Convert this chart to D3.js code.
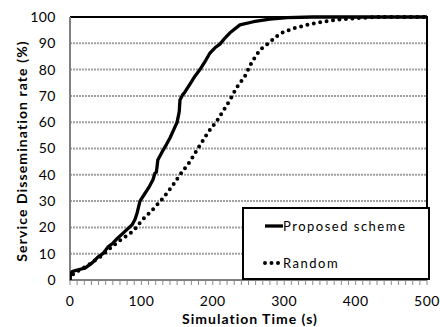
<!DOCTYPE html>
<html>
<head>
<meta charset="utf-8">
<script src="https://cdn.jsdelivr.net/npm/d3@7"></script>
<style>
  body { margin: 0; background: #fff; }
  svg text { font-family: Lato, "Open Sans", sans-serif; fill: #000; }
</style>
</head>
<body>
<div id="chart"></div>
<script>
// Proposed scheme (time in s, dissemination rate in %)
const proposedTime = [0, 1, 3, 10, 21, 31, 39, 46, 53, 60, 67, 77, 87, 91, 94, 98, 104, 110, 116, 119, 121, 123, 129, 135, 140, 145, 150, 153, 154, 158, 161, 168, 175, 182, 189, 196, 203, 210, 217, 224, 238, 257, 280, 304, 340, 500];
const proposedRate = [0, 2.5, 3.2, 3.8, 4.5, 6.5, 8.7, 10, 12.5, 14, 16, 18.5, 21, 23, 25.5, 30, 32.5, 35, 38, 40.6, 41, 45.6, 48.7, 51.5, 54, 57, 60, 64, 68.4, 70.5, 71.5, 74.5, 77.5, 80, 83, 86.3, 88.3, 89.7, 92, 94, 97, 98.2, 99.2, 99.8, 100, 100];

// Random
const randomTime = [0, 5, 15, 25, 31, 42, 56, 67, 80, 89, 101, 115, 130, 144, 154, 168, 179, 193, 207, 224, 233, 245, 255, 266, 280, 294, 313, 332, 350, 374, 397, 430, 500];
const randomRate = [0, 2.5, 4, 5.5, 6.8, 8.7, 12, 14.5, 17, 18.7, 22.8, 26.5, 31, 36, 40, 45, 50, 56, 61, 68.4, 73, 77.5, 83, 87.5, 90.5, 93.7, 95.7, 97, 98, 99, 99.5, 100, 100];

const xTicks = [0, 100, 200, 300, 400, 500];
const yTicks = [0, 10, 20, 30, 40, 50, 60, 70, 80, 90, 100];
const legendLabels = ['Proposed scheme', 'Random'];

const width = 440, height = 327;
const margin = { top: 17, right: 13, bottom: 47, left: 70 };

const svg = d3.select('#chart').append('svg')
    .attr('width', width)
    .attr('height', height);

svg.append('rect').attr('width', width).attr('height', height).attr('fill', '#fff');

const x = d3.scaleLinear().domain([0, 500]).range([margin.left, width - margin.right]);
const y = d3.scaleLinear().domain([0, 100]).range([height - margin.bottom, margin.top]);

// horizontal grid lines
svg.append('g')
    .selectAll('line')
    .data(yTicks.filter(d => d > 0 && d < 100))
    .enter().append('line')
    .attr('x1', x(0)).attr('x2', x(500))
    .attr('y1', d => y(d)).attr('y2', d => y(d))
    .attr('stroke', '#a0a0a0')
    .attr('stroke-width', 2)
    .attr('stroke-dasharray', '2,1');

// minor ticks on x axis every 10 s
svg.append('g')
    .selectAll('line')
    .data(d3.range(0, 501, 10))
    .enter().append('line')
    .attr('x1', d => x(d)).attr('x2', d => x(d))
    .attr('y1', y(0)).attr('y2', y(0) + 5)
    .attr('stroke', '#8a8a8a')
    .attr('stroke-width', 1);

// top and right frame
svg.append('path')
    .attr('d', `M${x(0)},${y(100)}H${x(500)}V${y(0)}`)
    .attr('fill', 'none')
    .attr('stroke', '#000')
    .attr('stroke-width', 2);

// left and bottom axis lines (grey)
svg.append('path')
    .attr('d', `M${x(0)},${y(100)}V${y(0)}H${x(500)}`)
    .attr('fill', 'none')
    .attr('stroke', '#808080')
    .attr('stroke-width', 2);

// y tick labels
svg.append('g')
    .selectAll('text')
    .data(yTicks)
    .enter().append('text')
    .attr('x', 56)
    .attr('y', d => y(d))
    .attr('dy', '0.35em')
    .attr('text-anchor', 'end')
    .style('font-size', '14px')
    .style('letter-spacing', '0.5px')
    .text(d => d);

// x tick labels
svg.append('g')
    .selectAll('text')
    .data(xTicks)
    .enter().append('text')
    .attr('x', d => x(d))
    .attr('y', 306)
    .attr('text-anchor', 'middle')
    .style('font-size', '14px')
    .style('letter-spacing', '0.5px')
    .text(d => d);

// axis titles
svg.append('text')
    .attr('x', 250)
    .attr('y', 324)
    .attr('text-anchor', 'middle')
    .style('font-size', '14px')
    .style('font-weight', 'bold')
    .style('letter-spacing', '1px')
    .text('Simulation Time (s)');

svg.append('text')
    .attr('transform', `translate(27,151) rotate(-90)`)
    .attr('text-anchor', 'middle')
    .style('font-size', '14px')
    .style('font-weight', 'bold')
    .style('letter-spacing', '1.1px')
    .text('Service Dissemination rate (%)');

const line = d3.line()
    .x(d => x(d[0]))
    .y(d => y(d[1]));

const proposed = proposedTime.map((t, i) => [t, proposedRate[i]]);
const random = randomTime.map((t, i) => [t, randomRate[i]]);

// clip lines to the plot area
svg.append('clipPath').attr('id', 'plot-clip')
    .append('rect')
    .attr('x', x(0)).attr('y', y(100) - 2)
    .attr('width', x(500) - x(0)).attr('height', y(0) - y(100) + 2);

const plot = svg.append('g').attr('clip-path', 'url(#plot-clip)');

plot.append('path')
    .datum(random)
    .attr('d', line)
    .attr('fill', 'none')
    .attr('stroke', '#000')
    .attr('stroke-width', 4)
    .attr('stroke-linecap', 'round')
    .attr('stroke-dasharray', '0,6.5');

plot.append('path')
    .datum(proposed)
    .attr('d', line)
    .attr('fill', 'none')
    .attr('stroke', '#000')
    .attr('stroke-width', 3.3)
    .attr('stroke-linejoin', 'round');

// legend
const legend = svg.append('g').attr('transform', 'translate(243,208)');

legend.append('rect')
    .attr('width', 186)
    .attr('height', 71)
    .attr('fill', '#fff')
    .attr('stroke', '#000')
    .attr('stroke-width', 2);

const legendItems = legend.selectAll('.legend-item')
    .data(legendLabels)
    .enter().append('g')
    .attr('class', 'legend-item')
    .attr('transform', (d, i) => `translate(0, ${18 + i * 37})`);

legendItems.append('line')
    .attr('x1', 22).attr('x2', 40)
    .attr('y1', 0).attr('y2', 0)
    .attr('stroke', '#000')
    .attr('stroke-width', (d, i) => i === 0 ? 3.3 : 4)
    .attr('stroke-linecap', (d, i) => i === 0 ? 'butt' : 'round')
    .attr('stroke-dasharray', (d, i) => i === 0 ? null : '0,6.5');

legendItems.append('text')
    .attr('x', 40)
    .attr('y', 0)
    .attr('dy', '0.35em')
    .style('font-size', '13px')
    .style('letter-spacing', '1.5px')
    .text(d => d);
</script>
</body>
</html>
